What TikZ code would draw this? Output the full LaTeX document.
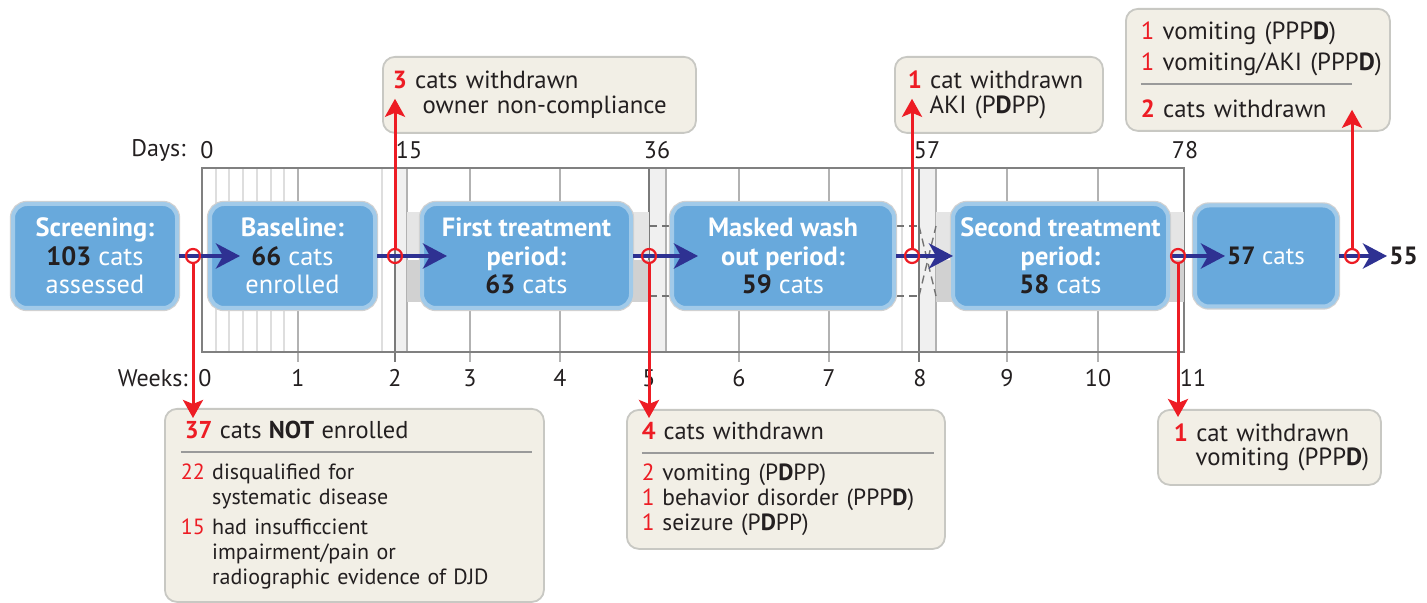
\documentclass[tikz,border=0pt]{standalone}
\usepackage{fontspec}
\setmainfont{PT Sans}
\usepackage{xcolor}
\usetikzlibrary{positioning,arrows.meta,calc}
\definecolor{phaseblue}{HTML}{68A9DC}
\definecolor{flowblue}{HTML}{2E3192}
\definecolor{dropred}{HTML}{ED1C24}
\definecolor{calloutfill}{HTML}{F2EFE6}
\definecolor{calloutedge}{HTML}{C8C8C3}
\definecolor{sepgray}{HTML}{9A9A9A}
\definecolor{numblack}{HTML}{231F20}
\newcommand{\hd}[1]{\textcolor{dropred}{\textbf{#1}}}
\newcommand{\rn}[1]{\textcolor{dropred}{#1}}
\newcommand{\nb}[1]{\textcolor{numblack}{\textbf{#1}}}
\newcommand{\sepline}[2]{\smash{\rlap{\textcolor{sepgray}{\rule[#1]{#2}{1pt}}}}}
\newcommand{\hdsize}{\fontsize{12.2}{12.5}\selectfont}
\setlength{\lineskiplimit}{-10pt}

\begin{document}
\begin{tikzpicture}[x=0.5pt, y=-0.5pt,
    every node/.style={font=\fontsize{11}{12.5}\selectfont, text=numblack},
    phase/.style={draw=phaseblue!62!white, line width=2pt, fill=phaseblue, rounded corners=7pt,
      preaction={draw=black!18, line width=3.2pt}, align=center, text=white,
      font=\fontsize{13.2}{14.25}\selectfont, inner sep=0pt, minimum height=52pt},
    callout/.style={draw=calloutedge, line width=0.9pt, fill=calloutfill, rounded corners=6pt,
      anchor=north west, align=left, inner ysep=0pt},
    large/.style={font=\fontsize{12.4}{12.5}\selectfont},
    axis/.style={font=\fontsize{12}{13}\selectfont, inner sep=1pt},
    frame/.style={draw=black!50, line width=1pt},
    dayline/.style={draw=black!13, line width=0.6pt},
    weekline/.style={draw=black!30, line width=0.8pt},
    majorline/.style={draw=black!52, line width=1pt},
    band/.style={fill=black!6},
    barup/.style={fill=black!10},
    barlow/.style={fill=black!18},
    washdash/.style={draw=black!55, line width=0.7pt, dash pattern=on 4pt off 2.5pt},
    flow/.style={draw=flowblue, line width=2.2pt, -{Stealth[length=12pt, width=12.5pt, inset=3.5pt]}},
    drop/.style={circle, draw=dropred, line width=1.1pt, minimum size=7pt, inner sep=0pt},
    droparrow/.style={draw=dropred, line width=1.5pt, -{Stealth[length=9pt, width=10pt, inset=2pt]}}
  ]
  \fill[white] (0,0) rectangle (1427,603);
  \useasboundingbox (0,0) rectangle (1427,603);

  % --- timeline grid ---
  \fill[band] (395,168) rectangle (407,352);
  \fill[band] (649,168) rectangle (666,352);
  \fill[band] (919,168) rectangle (936,352);
  \foreach \x in {216,229,243,257,271,284,382,902}
    \draw[dayline] (\x,168) -- (\x,352);
  \foreach \x in {407,666,936}
    \draw[weekline] (\x,168) -- (\x,352);
  \foreach \x in {298,470,560,739,829,1007,1098}
    \draw[weekline] (\x,168) -- (\x,362);
  \foreach \x in {395,649,919}
    \draw[majorline] (\x,168) -- (\x,362);
  \draw[frame] (202,168) rectangle (1184,352);

  % treatment bars
  \fill[barup] (407,212) rectangle (649,254);
  \fill[barlow] (407,260) rectangle (649,302);
  \fill[barup] (936,212) rectangle (1184,254);
  \fill[barlow] (936,260) rectangle (1184,302);
  % wash out (masked)
  \draw[washdash] (649,226) -- (919,226);
  \draw[washdash] (649,296) -- (919,296);
  \draw[washdash] (919,226) -- (936,296);
  \draw[washdash] (919,296) -- (936,226);

  % axis labels
  \node[axis, anchor=east] (dayslbl) at (188,150) {Days:};
  \foreach \d/\x in {0/207,15/409,36/657,57/927,78/1185}
    \node[axis] (day\d) at (\x,150) {\d};
  \node[axis, anchor=east] (wkslbl) at (190,378) {Weeks:};
  \foreach \w/\x in {0/205,1/298,2/395,3/470,4/560,5/649,6/739,7/829,8/920,9/1007,10/1098,11/1193}
    \node[axis] (wk\w) at (\x,378) {\w};

  % --- phases ---
  \node[phase, minimum width=82pt] (scr) at (95,256) {\textbf{Screening:}\\\nb{103} cats\\assessed};
  \node[phase, minimum width=82.5pt] (base) at (292.5,256) {\textbf{Baseline:}\\\nb{66} cats\\enrolled};
  \node[phase, minimum width=104.5pt] (trt1) at (526.5,256) {\textbf{First treatment}\\\textbf{period:}\\\nb{63} cats};
  \node[phase, minimum width=111pt] (wash) at (783,256) {\textbf{Masked wash}\\\textbf{out period:}\\\nb{59} cats};
  \node[phase, minimum width=107.5pt] (trt2) at (1060.5,256) {\textbf{Second treatment}\\\textbf{period:}\\\nb{58} cats};
  \node[phase, minimum width=71pt, minimum height=50.5pt, font=\fontsize{12.5}{14}\selectfont] (fin) at (1266,256) {\nb{57} cats};
  \node[font=\fontsize{12.5}{14}\selectfont\bfseries, inner sep=1pt, anchor=west] (n55) at (1387,256) {55};

  % --- flow arrows ---
  \draw[flow] (scr.east) -- ([xshift=16pt]base.west);
  \draw[flow] (base.east) -- ([xshift=13.5pt]trt1.west);
  \draw[flow] (trt1.east) -- ([xshift=14pt]wash.west);
  \draw[flow] (wash.east) -- ([xshift=1pt]trt2.west);
  \draw[flow] (trt2.east) -- ([xshift=16pt]fin.west);
  \draw[flow] (fin.east) -- (n55.west);

  % drop-out points
  \node[drop] (x1) at (193,256) {};
  \node[drop] (x2) at (395,256) {};
  \node[drop] (x3) at (649,256) {};
  \node[drop] (x4) at (912,256) {};
  \node[drop] (x5) at (1178,256) {};
  \node[drop] (x6) at (1352,256) {};

  % --- callouts ---
  \node[callout, text width=173.5pt, inner xsep=8pt, minimum height=96.5pt] (nen) at (164,408)
    {\sepline{-7pt}{175.5pt}\hspace*{2pt}{\hdsize\hd{37} cats \textbf{NOT} enrolled}\\[8pt]
     \rn{22} disqualified for\\
     \phantom{22 }systematic disease\\[2.5pt]
     \rn{15} had insufficcient\\
     \phantom{15 }impairment/pain or\\
     \phantom{15 }radiographic evidence of DJD};
  \node[callout, text width=144pt, inner xsep=7.5pt, minimum height=69.5pt,
        font=\fontsize{11.7}{12.5}\selectfont] (wd4) at (626,409)
    {\sepline{-7pt}{146pt}{\hdsize\hd{4} cats withdrawn}\\[8pt]
     \rn{2} vomiting (P\textbf{D}PP)\\
     \rn{1} behavior disorder (PPP\textbf{D})\\
     \rn{1} seizure (P\textbf{D}PP)};
  \node[callout, large, text width=146.5pt, inner xsep=5pt, minimum height=38pt] (wd3) at (382,56)
    {\hd{3} cats withdrawn\\
     \phantom{3 }\hspace*{4pt}owner non-compliance};
  \node[callout, large, text width=91pt, inner xsep=6.5pt, minimum height=38pt] (wd1a) at (894,56)
    {\hd{1} cat withdrawn\\
     \phantom{1 }AKI (P\textbf{D}PP)};
  \node[callout, large, text width=95.5pt, inner xsep=8pt, minimum height=37.5pt] (wd1b) at (1157,409)
    {\hd{1} cat withdrawn\\
     \mbox{\phantom{1 }vomiting (PPP\textbf{D})}};
  \node[callout, large, text width=117pt, inner xsep=7.5pt, minimum height=61pt] (wd2) at (1125,8)
    {\mbox{\rn{1} vomiting (PPP\textbf{D})}\\[3pt]
     \mbox{\sepline{-7pt}{105.5pt}\rn{1} vomiting/AKI (PPP\textbf{D})}\\[11pt]
     \hd{2} cats withdrawn};

  % --- drop-out arrows ---
  \draw[droparrow] (x1.south) -- ([yshift=-5pt]x1.south |- nen.north);
  \draw[droparrow] (x2.north) -- ([yshift=17.5pt]x2.north |- wd3.south);
  \draw[droparrow] (x3.south) -- ([yshift=-4.5pt]x3.south |- wd4.north);
  \draw[droparrow] (x4.north) -- ([yshift=17.5pt]x4.north |- wd1a.south);
  \draw[droparrow] (x5.south) -- ([yshift=-4pt]x5.south |- wd1b.north);
  \draw[droparrow] (x6.north) -- ([yshift=11pt]x6.north |- wd2.south);

\end{tikzpicture}
\end{document}
